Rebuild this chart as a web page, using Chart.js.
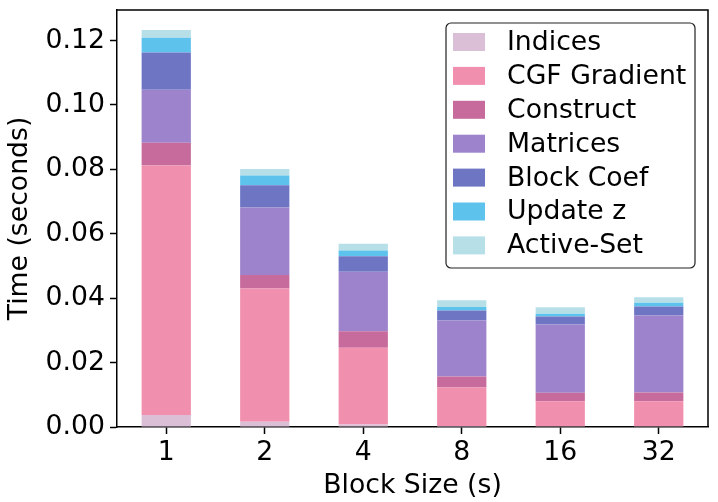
<!DOCTYPE html>
<html>
<head>
<meta charset="utf-8">
<script src="https://cdn.jsdelivr.net/npm/chart.js@4"></script>
<style>
  html, body { margin: 0; padding: 0; background: #fff; }
  #wrap { width: 718px; height: 502px; }
</style>
</head>
<body>
<div id="wrap"><canvas id="myChart" width="718" height="502"></canvas></div>
<script>
var blockSizes = ["1", "2", "4", "8", "16", "32"]

var indices    = [0.0037, 0.0016, 0.0008, 0.0003, 0.0002, 0.0002]
var cgfGrad    = [0.0775, 0.0414, 0.0238, 0.0120, 0.0078, 0.0078]
var construct  = [0.0071, 0.0042, 0.0051, 0.0034, 0.0026, 0.0027]
var matrices   = [0.0164, 0.0210, 0.0185, 0.0174, 0.0212, 0.0239]
var blockCoef  = [0.0116, 0.0069, 0.0048, 0.0031, 0.0025, 0.0028]
var updateZ    = [0.0046, 0.0030, 0.0018, 0.0011, 0.0009, 0.0012]
var activeSet  = [0.0024, 0.0020, 0.0021, 0.0021, 0.0020, 0.0017]

var yTicks = [0, 0.02, 0.04, 0.06, 0.08, 0.10, 0.12]

var seriesNames = ["Indices", "CGF Gradient", "Construct", "Matrices", "Block Coef", "Update z", "Active-Set"]
var seriesData = [indices, cgfGrad, construct, matrices, blockCoef, updateZ, activeSet]
var barColors = ["#dbbfd7", "#f190ae", "#c76a9c", "#9d83cb", "#6e76c4", "#5ec3ec", "#b6dfe8"]

var FONT = "'DejaVu Sans', sans-serif"
var FS = 26.7

var datasets = []
for (var i = 0; i < seriesNames.length; i++) {
    datasets.push({
        label: seriesNames[i],
        data: seriesData[i],
        backgroundColor: barColors[i],
        borderWidth: 0,
        barPercentage: 0.5,
        categoryPercentage: 1.0
    })
}

// top/right spines
var framePlugin = {
    id: "frame",
    afterDraw: function (chart) {
        var ctx = chart.ctx, a = chart.chartArea
        ctx.save()
        ctx.strokeStyle = "#000"
        ctx.lineWidth = 1.5
        ctx.beginPath()
        ctx.moveTo(a.left, a.top)
        ctx.lineTo(a.right, a.top)
        ctx.lineTo(a.right, a.bottom)
        ctx.stroke()
        ctx.restore()
    }
}

// legend box in the top right corner, like matplotlib
var boxLegend = {
    id: "boxLegend",
    afterDraw: function (chart) {
        var ctx = chart.ctx
        var x0 = 446, y0 = 23, w = 249, h = 245, r = 5
        ctx.save()
        ctx.fillStyle = "rgba(255,255,255,0.85)"
        ctx.strokeStyle = "#222"
        ctx.lineWidth = 1.2
        ctx.beginPath()
        ctx.roundRect(x0, y0, w, h, r)
        ctx.fill()
        ctx.stroke()
        ctx.font = FS + "px " + FONT
        ctx.textBaseline = "middle"
        chart.data.datasets.forEach(function (ds, k) {
            var cy = 42 + k * 33.9
            ctx.fillStyle = ds.backgroundColor
            ctx.fillRect(453, cy - 9, 32, 18)
            ctx.fillStyle = "#000"
            ctx.fillText(ds.label, 507, cy + 1)
        })
        ctx.restore()
    }
}

new Chart("myChart", {
    type: "bar",
    data: {
        labels: blockSizes,
        datasets: datasets
    },
    plugins: [framePlugin, boxLegend],
    options: {
        responsive: false,
        animation: false,
        layout: { padding: { top: 10, right: 10, left: 0, bottom: 0 } },
        plugins: {
            legend: { display: false },
            tooltip: { enabled: false },
            title: { display: false }
        },
        scales: {
            x: {
                stacked: true,
                grid: { offset: false, drawOnChartArea: false, drawTicks: true, tickLength: 7, color: "#000", tickWidth: 1.5 },
                border: { display: true, color: "#000", width: 1.5 },
                ticks: { color: "#000", font: { family: FONT, size: FS }, padding: 3, maxRotation: 0 },
                title: { display: true, text: "Block Size (s)", color: "#000", font: { family: FONT, size: FS }, padding: { top: 2, bottom: 0 } },
                afterFit: function (s) { s.height = 75; s.paddingLeft = 0; s.paddingRight = 0 }
            },
            y: {
                stacked: true,
                min: 0,
                max: 0.1295,
                grid: { drawOnChartArea: false, drawTicks: true, tickLength: 7, color: "#000", tickWidth: 1.5 },
                border: { display: true, color: "#000", width: 1.5 },
                afterBuildTicks: function (s) {
                    s.ticks = yTicks.map(function (v) { return { value: v } })
                },
                ticks: {
                    color: "#000",
                    font: { family: FONT, size: FS },
                    padding: 5,
                    callback: function (v) { return v.toFixed(2) }
                },
                title: { display: true, text: "Time (seconds)", color: "#000", font: { family: FONT, size: FS }, padding: { top: 4, bottom: 0 } },
                afterFit: function (s) { s.width = 117; s.paddingTop = 0; s.paddingBottom = 0 }
            }
        }
    }
});
</script>
</body>
</html>
